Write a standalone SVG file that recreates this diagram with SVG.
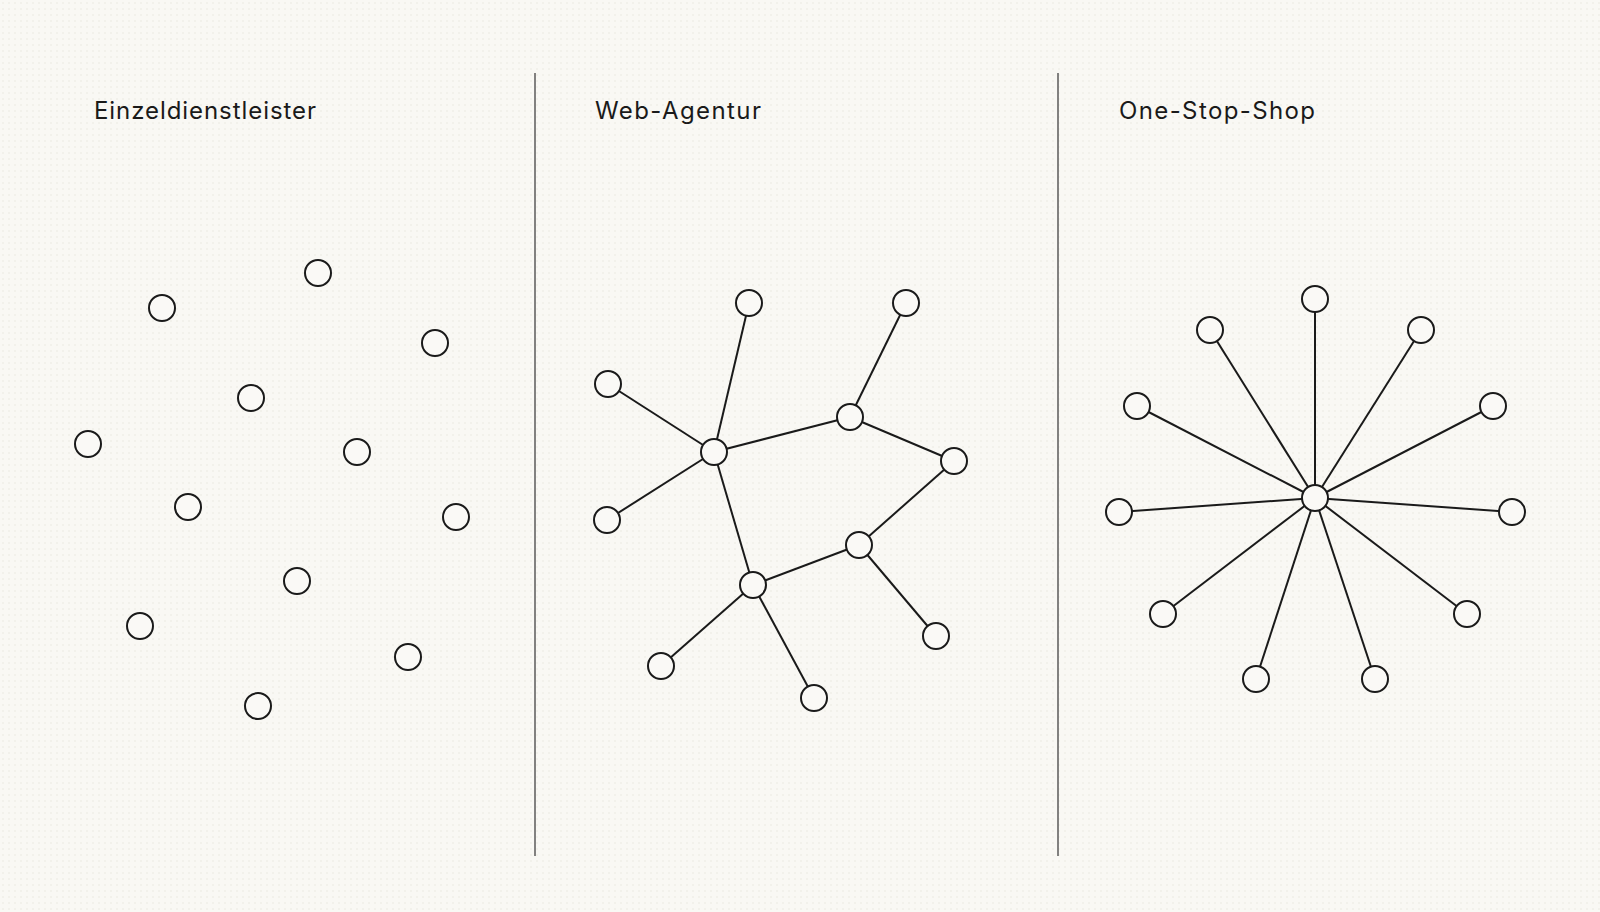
<svg xmlns="http://www.w3.org/2000/svg" width="1600" height="912" viewBox="0 0 1600 912">
<defs>
<pattern id="dots" width="6" height="6" patternUnits="userSpaceOnUse">
<circle cx="3" cy="3" r="0.8" fill="#d9d5cc" opacity="0.5"/>
</pattern>
<style>
.t{font-family:Inter,"Noto Sans","Liberation Sans",sans-serif;font-size:24px;fill:#1a1a1a}
.n circle,circle.n{fill:#faf9f6;stroke:#1a1a1a;stroke-width:2}
.e line{stroke:#1a1a1a;stroke-width:2}
.d{stroke:#5a5a5a;stroke-width:1.5}
</style>
</defs>
<rect width="1600" height="912" fill="#f9f8f4"/>
<rect width="1600" height="912" fill="url(#dots)"/>
<g id="dividers">
<line class="d" x1="535" y1="73" x2="535" y2="856"/>
<line class="d" x1="1058" y1="73" x2="1058" y2="856"/>
</g>
<g id="titles">
<text class="t" x="94" y="119" textLength="222" lengthAdjust="spacing">Einzeldienstleister</text>
<text class="t" x="595" y="119" textLength="166" lengthAdjust="spacing">Web-Agentur</text>
<text class="t" x="1119" y="119" textLength="196" lengthAdjust="spacing">One-Stop-Shop</text>
</g>
<g id="connectors" class="e">
<line x1="714" y1="452" x2="749" y2="303"/>
<line x1="714" y1="452" x2="608" y2="384"/>
<line x1="714" y1="452" x2="607" y2="520"/>
<line x1="714" y1="452" x2="850" y2="417"/>
<line x1="850" y1="417" x2="906" y2="303"/>
<line x1="850" y1="417" x2="954" y2="461"/>
<line x1="954" y1="461" x2="859" y2="545"/>
<line x1="859" y1="545" x2="936" y2="636"/>
<line x1="859" y1="545" x2="753" y2="585"/>
<line x1="714" y1="452" x2="753" y2="585"/>
<line x1="753" y1="585" x2="661" y2="666"/>
<line x1="753" y1="585" x2="814" y2="698"/>
<line x1="1315" y1="498" x2="1315" y2="299"/>
<line x1="1315" y1="498" x2="1210" y2="330"/>
<line x1="1315" y1="498" x2="1421" y2="330"/>
<line x1="1315" y1="498" x2="1137" y2="406"/>
<line x1="1315" y1="498" x2="1493" y2="406"/>
<line x1="1315" y1="498" x2="1119" y2="512"/>
<line x1="1315" y1="498" x2="1512" y2="512"/>
<line x1="1315" y1="498" x2="1163" y2="614"/>
<line x1="1315" y1="498" x2="1467" y2="614"/>
<line x1="1315" y1="498" x2="1256" y2="679"/>
<line x1="1315" y1="498" x2="1375" y2="679"/>
</g>
<g id="einzel-nodes">
<g id="e1" class="n"><circle cx="318" cy="273" r="13"/></g>
<g id="e2" class="n"><circle cx="162" cy="308" r="13"/></g>
<g id="e3" class="n"><circle cx="435" cy="343" r="13"/></g>
<g id="e4" class="n"><circle cx="251" cy="398" r="13"/></g>
<g id="e5" class="n"><circle cx="88" cy="444" r="13"/></g>
<g id="e6" class="n"><circle cx="357" cy="452" r="13"/></g>
<g id="e7" class="n"><circle cx="188" cy="507" r="13"/></g>
<g id="e8" class="n"><circle cx="456" cy="517" r="13"/></g>
<g id="e9" class="n"><circle cx="297" cy="581" r="13"/></g>
<g id="e10" class="n"><circle cx="140" cy="626" r="13"/></g>
<g id="e11" class="n"><circle cx="408" cy="657" r="13"/></g>
<g id="e12" class="n"><circle cx="258" cy="706" r="13"/></g>
</g>
<g id="web-nodes">
<g id="w-top1" class="n"><circle cx="749" cy="303" r="13"/></g>
<g id="w-top2" class="n"><circle cx="906" cy="303" r="13"/></g>
<g id="w-left1" class="n"><circle cx="608" cy="384" r="13"/></g>
<g id="w-hubA" class="n"><circle cx="714" cy="452" r="13"/></g>
<g id="w-hubB" class="n"><circle cx="850" cy="417" r="13"/></g>
<g id="w-right" class="n"><circle cx="954" cy="461" r="13"/></g>
<g id="w-left2" class="n"><circle cx="607" cy="520" r="13"/></g>
<g id="w-hubD" class="n"><circle cx="859" cy="545" r="13"/></g>
<g id="w-hubE" class="n"><circle cx="753" cy="585" r="13"/></g>
<g id="w-bl" class="n"><circle cx="661" cy="666" r="13"/></g>
<g id="w-bm" class="n"><circle cx="814" cy="698" r="13"/></g>
<g id="w-br" class="n"><circle cx="936" cy="636" r="13"/></g>
</g>
<g id="shop-nodes">
<g id="s-hub" class="n"><circle cx="1315" cy="498" r="13"/></g>
<g id="s1" class="n"><circle cx="1315" cy="299" r="13"/></g>
<g id="s2" class="n"><circle cx="1210" cy="330" r="13"/></g>
<g id="s3" class="n"><circle cx="1421" cy="330" r="13"/></g>
<g id="s4" class="n"><circle cx="1137" cy="406" r="13"/></g>
<g id="s5" class="n"><circle cx="1493" cy="406" r="13"/></g>
<g id="s6" class="n"><circle cx="1119" cy="512" r="13"/></g>
<g id="s7" class="n"><circle cx="1512" cy="512" r="13"/></g>
<g id="s8" class="n"><circle cx="1163" cy="614" r="13"/></g>
<g id="s9" class="n"><circle cx="1467" cy="614" r="13"/></g>
<g id="s10" class="n"><circle cx="1256" cy="679" r="13"/></g>
<g id="s11" class="n"><circle cx="1375" cy="679" r="13"/></g>
</g>
</svg>
